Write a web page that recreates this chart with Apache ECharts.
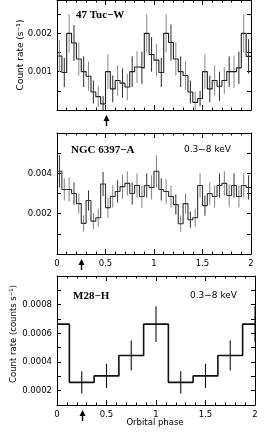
<!DOCTYPE html>
<html><head><meta charset="utf-8">
<script src="https://cdn.jsdelivr.net/npm/echarts@6/dist/echarts.min.js"></script>
<style>html,body{margin:0;padding:0;background:#fff}#c{width:277px;height:436px}</style>
</head><body><div id="c"></div>
<script>
// ---- data ----
const binWidth = 0.05;
const tucRate = [0.00141,0.00098,0.00200,0.00175,0.00133,0.00100,0.00088,0.00047,0.00035,0.00016,
                 0.00100,0.00055,0.00077,0.00070,0.00060,0.00100,0.00112,0.00110,0.00200,0.00145,
                 0.00130,0.00098,0.00200,0.00176,0.00133,0.00100,0.00090,0.00047,0.00020,0.00030,
                 0.00100,0.00055,0.00077,0.00062,0.00077,0.00100,0.00100,0.00110,0.00200,0.00140];
const tucErr  = [0.00042,0.00038,0.00050,0.00047,0.00043,0.00040,0.00038,0.00030,0.00028,0.00020,
                 0.00045,0.00035,0.00040,0.00038,0.00035,0.00040,0.00042,0.00042,0.00050,0.00045,
                 0.00042,0.00038,0.00050,0.00047,0.00043,0.00040,0.00038,0.00030,0.00028,0.00020,
                 0.00045,0.00035,0.00040,0.00038,0.00035,0.00040,0.00042,0.00042,0.00050,0.00045];
const ngcRate = [0.0041,0.0032,0.0032,0.0030,0.0025,0.00152,0.00265,0.00163,0.0018,0.00347,
                 0.0023,0.00285,0.0031,0.00334,0.0035,0.0030,0.0034,0.00285,0.0034,0.0033,
                 0.0041,0.0032,0.0031,0.00285,0.00245,0.0015,0.0025,0.0017,0.0018,0.0034,
                 0.0024,0.0030,0.00285,0.0034,0.0035,0.0029,0.0034,0.00285,0.0034,0.0033];
const ngcErr  = [0.0008,0.00055,0.0006,0.00055,0.0005,0.0004,0.0005,0.0004,0.00045,0.0006,
                 0.0005,0.00055,0.00055,0.0006,0.0006,0.00055,0.0006,0.00055,0.0006,0.0006,
                 0.0008,0.00055,0.0006,0.00055,0.0005,0.0004,0.0005,0.0004,0.00045,0.0006,
                 0.0005,0.00055,0.00055,0.0006,0.0006,0.00055,0.0006,0.00055,0.0006,0.0006];
const m28Phase = [0,0.25,0.5,0.75,1.0,1.25,1.5,1.75,2.0];
const m28Rate  = [0.000664,0.000258,0.000303,0.000445,0.000664,0.000258,0.000303,0.000445,0.000664];
const m28Err   = [0.000125,0.000077,0.000085,0.000105,0.000125,0.000077,0.000085,0.000105,0.000125];
const xTicks = [0,0.5,1,1.5,2];
const tucYLabels = [0.001,0.002];
const ngcYLabels = [0.002,0.004];
const m28YLabels = [0.0002,0.0004,0.0006,0.0008];
const arrowPhase = [0.5,0.25,0.25];

// ---- build ----
const FONT = 'DejaVu Sans';
function stepData(rate){
  const d = rate.map((v,i)=>[i*binWidth, v]);
  d.push([rate.length*binWidth, rate[rate.length-1]]);
  return d;
}
function errData(rate, err){ return rate.map((v,i)=>[(i+0.5)*binWidth, v, err[i], i]); }
function near(v, list){ return list.some(t=>Math.abs(v-t) < 1e-9); }

const grids = [
  {left:57, top:-1, width:194, height:111},
  {left:57, top:133, width:194, height:121},
  {left:57, top:276, width:198, height:129}
];
const yCfg = [
  {min:0, max:0.00287, interval:0.0005, labels:tucYLabels, dec:3},
  {min:0, max:0.006, interval:0.001, labels:ngcYLabels, dec:3},
  {min:0.0001, max:0.001, interval:0.0001, labels:m28YLabels, dec:4}
];
const xAxes = [], yAxes = [];
grids.forEach((g,gi)=>{
  [false,true].forEach(isTop=>{
    xAxes.push({gridIndex:gi, type:'value', min:0, max:2, interval:0.5, position:isTop?'top':'bottom',
      axisLine:{show:true,onZero:false,lineStyle:{color:'#000',width:1}},
      axisTick:{show:true,inside:true,length:5,lineStyle:{color:'#000',width:1}},
      minorTick:{show:true,splitNumber:5,length:2.5,lineStyle:{color:'#000',width:1}},
      axisLabel:{show:(!isTop && gi>0), margin:5, fontSize:8.5, fontFamily:FONT, color:'#000',
        formatter:v=> near(v,xTicks)? String(v):''},
      splitLine:{show:false}, minorSplitLine:{show:false}});
  });
  const c = yCfg[gi];
  [false,true].forEach(isRight=>{
    yAxes.push({gridIndex:gi, type:'value', min:c.min, max:c.max, interval:c.interval, position:isRight?'right':'left',
      axisLine:{show:true,onZero:false,lineStyle:{color:'#000',width:1}},
      axisTick:{show:true,inside:true,length:4,lineStyle:{color:'#000',width:1}},
      axisLabel:{show:!isRight, margin:5, fontSize:8.5, fontFamily:FONT, color:'#000',
        showMaxLabel:false,
        formatter:v=> near(v,c.labels)? v.toFixed(c.dec):''},
      splitLine:{show:false}});
  });
});

function errSeries(gi, data, colorFn, width){
  return {type:'custom', xAxisIndex:gi*2, yAxisIndex:gi*2, clip:true, silent:true, data:data,
    renderItem:(params, api)=>{
      const x=api.value(0), y=api.value(1), e=api.value(2), i=api.value(3);
      const p1=api.coord([x,y-e]), p2=api.coord([x,y+e]);
      return {type:'line', shape:{x1:p1[0],y1:p1[1],x2:p2[0],y2:p2[1]},
        style:{stroke:colorFn(i), lineWidth:width}};
    }};
}
function arrowSeries(gi){
  return {type:'custom', xAxisIndex:gi*2, yAxisIndex:gi*2, clip:false, silent:true,
    data:[[arrowPhase[gi], yCfg[gi].min]],
    renderItem:(params, api)=>{
      const p=api.coord([api.value(0), api.value(1)]);
      const x=Math.round(p[0])+0.5, y=p[1];
      return {type:'group', children:[
        {type:'line', shape:{x1:x,y1:y+9,x2:x,y2:y+16}, style:{stroke:'#000',lineWidth:1.4}},
        {type:'polygon', shape:{points:[[x,y+5],[x-3,y+11],[x+3,y+11]]}, style:{fill:'#000'}}
      ]};
    }};
}
const alt = i => (i%2===0)? '#8a8a8a' : '#2a2a2a';
const series = [
  {type:'line', step:'end', xAxisIndex:0, yAxisIndex:0, data:stepData(tucRate), symbol:'none', clip:true,
    lineStyle:{color:'#222',width:1.1}},
  errSeries(0, errData(tucRate,tucErr), alt, 1),
  {type:'line', step:'end', xAxisIndex:2, yAxisIndex:2, data:stepData(ngcRate), symbol:'none', clip:true,
    lineStyle:{color:'#333',width:1.1}},
  errSeries(1, errData(ngcRate,ngcErr), i=>(i%3===0)?'#333':'#808080', 1),
  {type:'line', step:'middle', xAxisIndex:4, yAxisIndex:4, data:m28Phase.map((p,i)=>[p,m28Rate[i]]), symbol:'none', clip:true,
    lineStyle:{color:'#111',width:1.6}},
  errSeries(2, m28Phase.map((p,i)=>[p,m28Rate[i],m28Err[i],i]), ()=>'#111', 1.1),
  arrowSeries(0), arrowSeries(1), arrowSeries(2)
];

const txt = (x,y,text,font,align,rot)=>({type:'text', x:x, y:y, rotation:rot||0, silent:true,
  style:{text:text, font:font, fill:'#000', textAlign:align||'left', textVerticalAlign:'middle'}});
const graphic = [
  txt(76,15,'47 Tuc\u2212W','bold 11px "Liberation Serif"'),
  txt(71,150,'NGC 6397\u2212A','bold 11px "Liberation Serif"'),
  txt(184,150,'0.3\u22128 keV','9px "DejaVu Sans"'),
  txt(73,296,'M28\u2212H','bold 11px "Liberation Serif"'),
  txt(190,296,'0.3\u22128 keV','9px "DejaVu Sans"'),
  txt(21,55,'Count rate (s\u207B\u00B9)','9px "DejaVu Sans"','center',Math.PI/2),
  txt(14,334,'Count rate (counts s\u207B\u00B9)','8.5px "DejaVu Sans"','center',Math.PI/2),
  txt(155,423,'Orbital phase','8.5px "DejaVu Sans"','center')
];

const chart = echarts.init(document.getElementById('c'), null, {renderer:'canvas'});
chart.setOption({animation:false, backgroundColor:'#fff', grid:grids, xAxis:xAxes, yAxis:yAxes, series:series, graphic:graphic});
</script></body></html>
